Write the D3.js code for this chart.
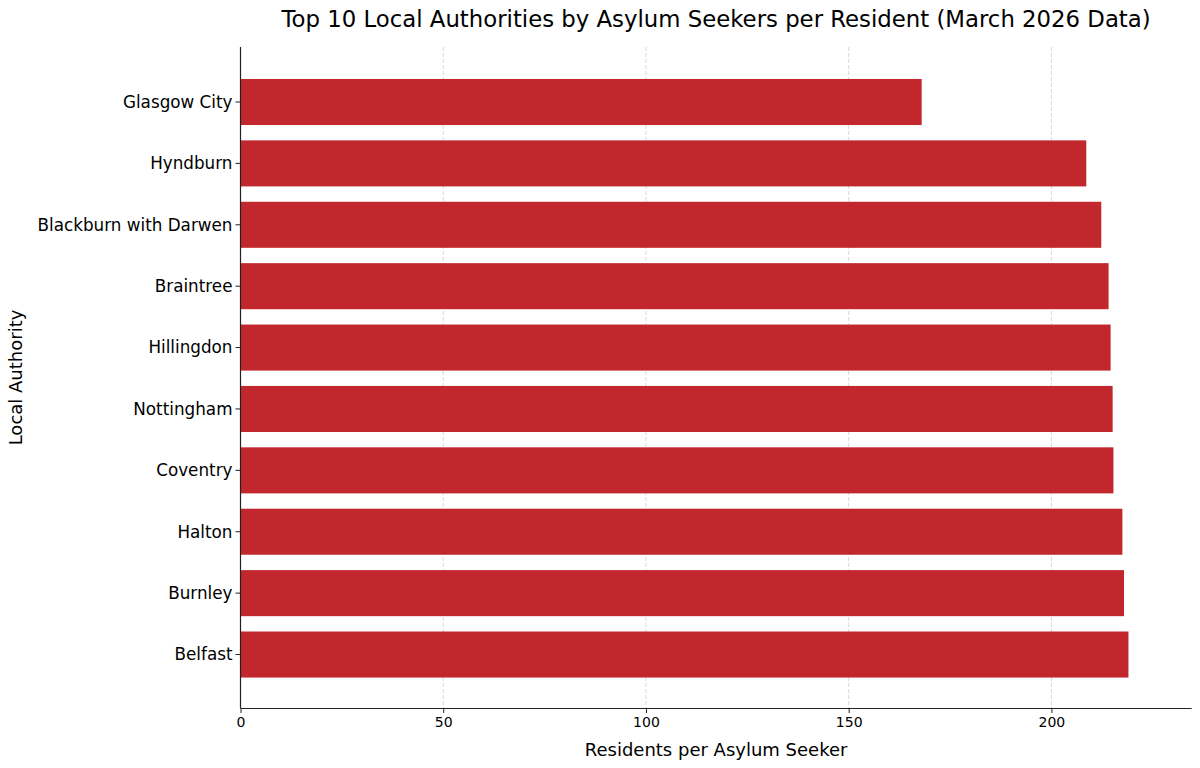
<!DOCTYPE html>
<html>
<head>
<meta charset="utf-8">
<script src="https://cdn.jsdelivr.net/npm/d3@7"></script>
<style>
  html, body { margin: 0; padding: 0; background: #fff; }
  svg text { font-family: "DejaVu Sans", sans-serif; fill: #000; }
</style>
</head>
<body>
<svg id="chart" width="1200" height="768"></svg>
<script>
const authorities = ["Glasgow City", "Hyndburn", "Blackburn with Darwen", "Braintree", "Hillingdon", "Nottingham", "Coventry", "Halton", "Burnley", "Belfast"];
const residentsPerSeeker = [168, 208.6, 212.3, 214.1, 214.6, 215.1, 215.3, 217.5, 217.9, 219.0];
const xTicks = [0, 50, 100, 150, 200];
const titleText = "Top 10 Local Authorities by Asylum Seekers per Resident (March 2026 Data)";
const xLabel = "Residents per Asylum Seeker";
const yLabel = "Local Authority";

(function () {
const svg = d3.select("#chart");
const mLeft = 240.5, mRight = 1191.7, mTop = 47, mBottom = 708;

const x = d3.scaleLinear().domain([0, 234.6]).range([mLeft, mRight]);
const n = authorities.length;
const barH = 0.75;
const yIdx = d3.scaleLinear().domain([-0.896, n - 1 + 0.871]).range([mTop, mBottom]);

// grid
svg.append("g").selectAll("line").data(xTicks).join("line")
  .attr("x1", d => x(d)).attr("x2", d => x(d))
  .attr("y1", mTop).attr("y2", mBottom)
  .attr("stroke", "#cfcfcf").attr("stroke-width", 0.8)
  .attr("stroke-dasharray", "4,2");

// bars
svg.append("g").selectAll("rect").data(authorities).join("rect")
  .attr("x", x(0))
  .attr("y", (d, i) => yIdx(i - barH / 2))
  .attr("width", (d, i) => x(residentsPerSeeker[i]) - x(0))
  .attr("height", (d, i) => yIdx(i + barH / 2) - yIdx(i - barH / 2))
  .attr("fill", "#c1272d");

// x axis
const xAxis = d3.axisBottom(x).tickValues(xTicks).tickSize(5).tickPadding(4).tickFormat(d3.format("d"));
const gx = svg.append("g").attr("transform", `translate(0,${mBottom})`).call(xAxis);
gx.select(".domain").attr("d", `M${mLeft},0.5H${mRight}`).attr("stroke", "#222").attr("stroke-width", 1.2);
gx.selectAll(".tick line").attr("stroke", "#222");
gx.selectAll("text").style("font-family", "DejaVu Sans").style("font-size", "14px").attr("fill", "#000");

// y axis
const yAxisScale = d3.scaleOrdinal().domain(authorities).range(authorities.map((d, i) => yIdx(i)));
const gy = svg.append("g").attr("transform", `translate(${mLeft},0)`);
gy.append("line").attr("x1", 0).attr("x2", 0).attr("y1", mTop).attr("y2", mBottom).attr("stroke", "#222").attr("stroke-width", 1.2);
const ticks = gy.selectAll("g.tick").data(authorities).join("g").attr("class", "tick")
  .attr("transform", d => `translate(0,${yAxisScale(d)})`);
ticks.append("line").attr("x1", -5).attr("x2", 0).attr("stroke", "#222");
ticks.append("text").attr("x", -8).attr("dy", "0.35em").attr("text-anchor", "end")
  .style("font-size", "16.8px").text(d => d);

// title
svg.append("text").attr("x", (mLeft + mRight) / 2).attr("y", 27).attr("text-anchor", "middle")
  .style("font-size", "22.8px").text(titleText);

// axis labels
svg.append("text").attr("x", (mLeft + mRight) / 2).attr("y", 756).attr("text-anchor", "middle")
  .style("font-size", "18px").text(xLabel);
svg.append("text").attr("transform", `translate(22,${(mTop + mBottom) / 2}) rotate(-90)`).attr("text-anchor", "middle")
  .style("font-size", "18px").text(yLabel);
})();
</script>
</body>
</html>
